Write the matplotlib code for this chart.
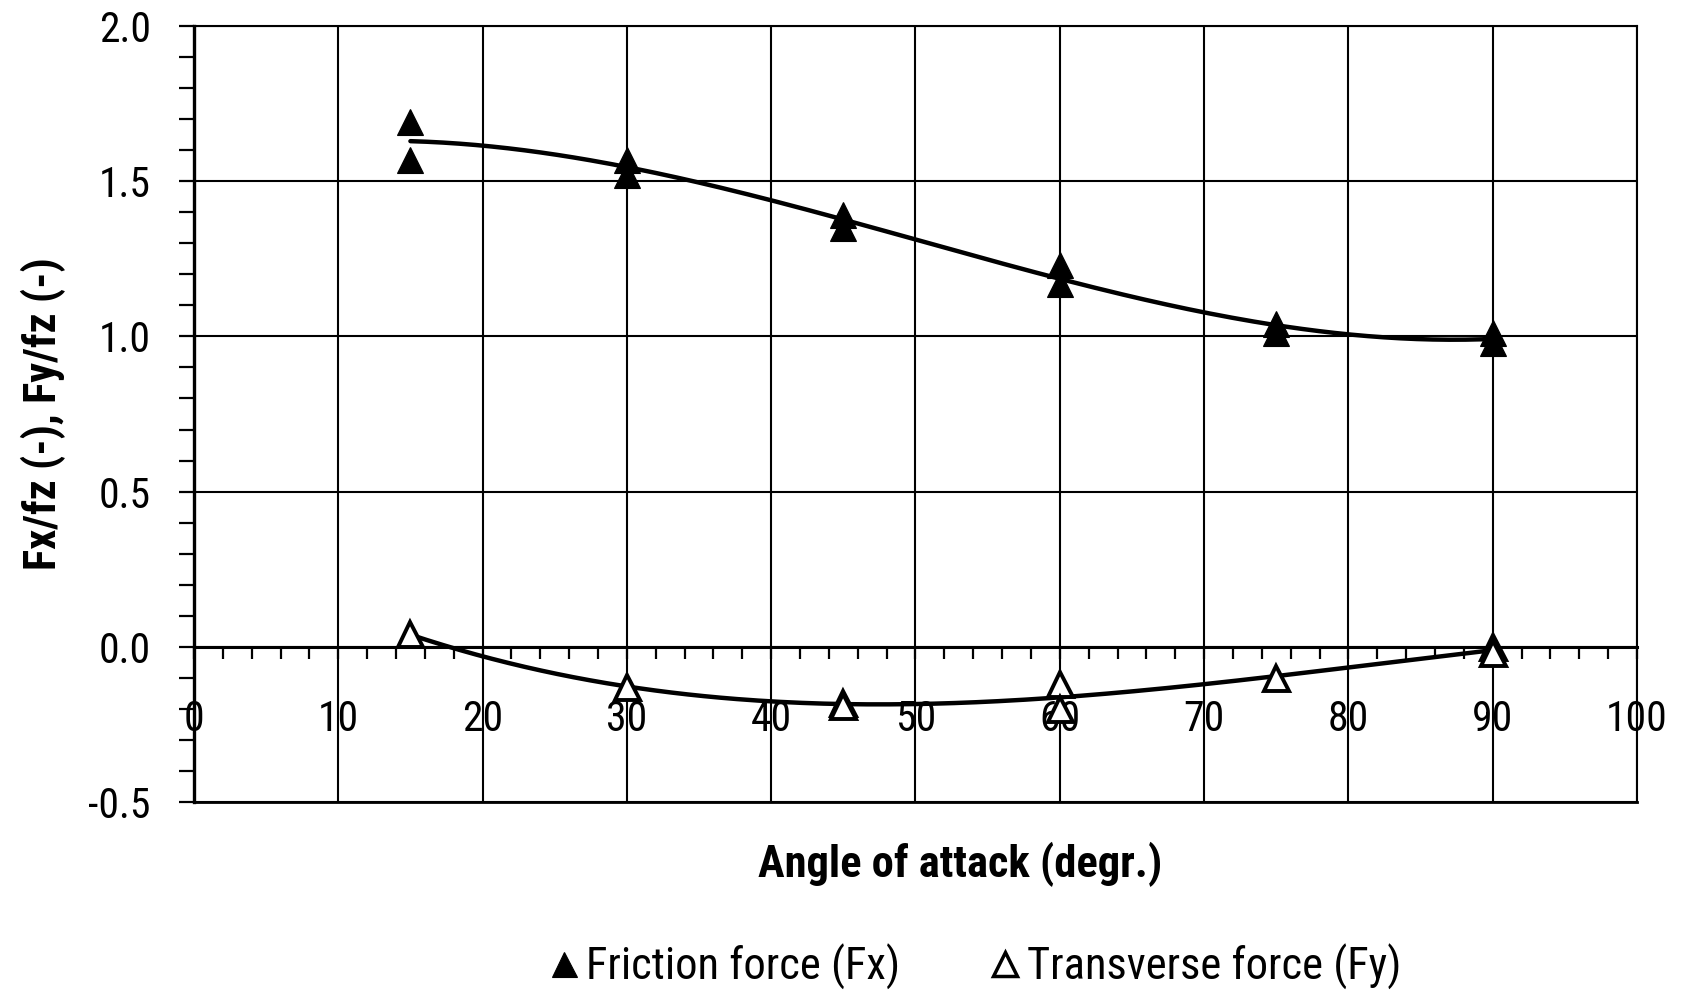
import numpy as np
import matplotlib
matplotlib.use('Agg')
import matplotlib.pyplot as plt
from matplotlib.lines import Line2D
from matplotlib.ticker import MultipleLocator, FormatStrFormatter

plt.rcParams['font.family'] = ['Roboto Condensed', 'Liberation Sans Narrow',
                               'DejaVu Sans Condensed', 'Roboto', 'DejaVu Sans']
plt.rcParams['axes.unicode_minus'] = False

# measured friction force ratio Fx/fz (two runs per angle)
angle_fx = [15, 15, 30, 30, 45, 45, 60, 60, 75, 75, 90, 90]
fx = [1.69, 1.57, 1.57, 1.52, 1.39, 1.35, 1.23, 1.17, 1.04, 1.01, 1.01, 0.98]

# measured transverse force ratio Fy/fz
angle_fy = [15, 30, 45, 45, 60, 60, 75, 90, 90]
fy = [0.04, -0.13, -0.18, -0.19, -0.12, -0.20, -0.10, 0.00, -0.02]

x_label = 'Angle of attack (degr.)'
y_label = 'Fx/fz (-), Fy/fz (-)'
legend_labels = ['Friction force (Fx)', 'Transverse force (Fy)']

FS = 30      # tick labels
FS_LAB = 32  # axis titles and legend

fig = plt.figure(figsize=(16.88, 9.94), dpi=100)
ax = fig.add_axes([0.1149, 0.1932, 0.8549, 0.7806])

# cubic trend lines through each series
xs = np.linspace(min(angle_fx), max(angle_fx), 200)
fx_fit = np.polyval(np.polyfit(angle_fx, fx, 3), xs)
fy_fit = np.polyval(np.polyfit(angle_fy, fy, 3), xs)
ax.plot(xs, fx_fit, color='black', lw=3.2, zorder=3, solid_capstyle='round')
ax.plot(xs, fy_fit, color='black', lw=3.2, zorder=3, solid_capstyle='round')

ax.plot(angle_fx, fx, ls='none', marker='^', color='black', ms=19,
        mec='black', mew=0.8, zorder=4)
ax.plot(angle_fy, fy, ls='none', marker='^', mfc='white', mec='black',
        ms=18, mew=2.8, zorder=4)

ax.set_xlim(0, 100)
ax.set_ylim(-0.5, 2.0)
ax.xaxis.set_major_locator(MultipleLocator(10))
ax.xaxis.set_minor_locator(MultipleLocator(2))
ax.yaxis.set_major_locator(MultipleLocator(0.5))
ax.yaxis.set_minor_locator(MultipleLocator(0.1))
ax.yaxis.set_major_formatter(FormatStrFormatter('%.1f'))

ax.grid(True, which='major', color='black', lw=1.5)
ax.set_axisbelow(True)

# x axis sits on y = 0, frame closed by a line at the bottom
ax.spines['bottom'].set_position(('data', 0))
ax.spines['bottom'].set_linewidth(2.2)
ax.spines['left'].set_linewidth(2.4)
ax.spines['top'].set_linewidth(1.5)
ax.spines['right'].set_linewidth(1.5)
ax.axhline(-0.5, color='black', lw=2.0, clip_on=False, zorder=2)

ax.tick_params(axis='x', which='both', direction='out', width=1.6,
               length=8.6, pad=29, labelsize=FS)
ax.tick_params(axis='y', which='both', direction='out', width=1.6,
               length=11, pad=20, labelsize=FS)

ax.set_xlabel(x_label, fontsize=FS_LAB, fontweight='bold')
ax.xaxis.label.set_va('center')
ax.xaxis.set_label_coords(0.531, -0.080)
ax.set_ylabel(y_label, fontsize=FS_LAB, fontweight='bold')
ax.yaxis.label.set_va('center')
ax.yaxis.set_label_coords(-0.1046, 0.5)

handles = [
    Line2D([], [], ls='none', marker='^', color='black', ms=18, mew=0.8),
    Line2D([], [], ls='none', marker='^', mfc='white', mec='black', ms=17, mew=2.5),
]
fig.legend(handles, legend_labels, loc='center', bbox_to_anchor=(0.5776, 0.027),
           ncol=2, frameon=False, fontsize=FS_LAB, handlelength=0.7,
           handletextpad=0.15, columnspacing=2.0, borderpad=0)

fig.savefig('out.png', dpi=100)
